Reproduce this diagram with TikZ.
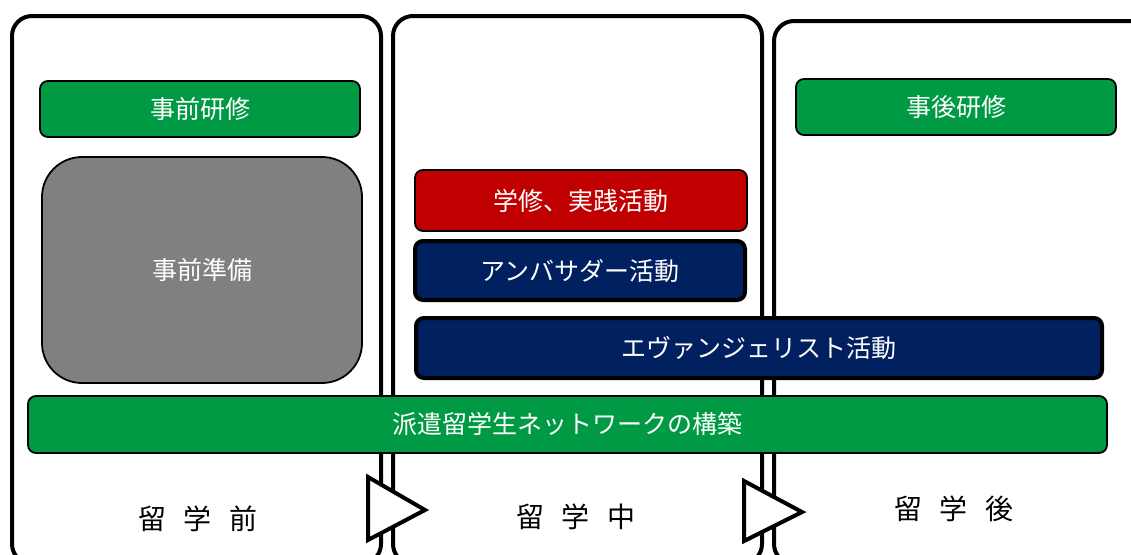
\documentclass[tikz,border=0pt]{standalone}
\usepackage{fontspec}
\setmainfont{Noto Sans CJK JP}
\definecolor{bgreen}{HTML}{009A44}
\definecolor{bred}{HTML}{C00000}
\definecolor{bnavy}{HTML}{002060}
\definecolor{bgray}{HTML}{808080}
\begin{document}
\begin{tikzpicture}[x=1pt,y=-1pt,
  panel/.style={draw=black,line width=4pt,fill=white,rounded corners=20pt},
  box/.style={draw=black,line width=1.8pt,rounded corners=8pt,inner sep=0pt,
    text=white,font=\fontsize{25}{28}\selectfont,anchor=center},
  thickbox/.style={box,line width=4pt},
  phase/.style={font=\fontsize{28}{30}\selectfont,text=black,inner sep=0pt},
  chevron/.style={draw=black,line width=4pt,fill=white,line join=miter}]
\useasboundingbox (0,0) rectangle (1131,554);
\clip (0,0) rectangle (1131,554);
% panels
\draw[panel] (12,16) rectangle (381,564);
\draw[panel] (393,16) rectangle (762,564);
\draw[panel] (774,21) rectangle (1150,564);
% phase labels
\node[phase] (p1) at (198,519) {留\hspace{18pt}学\hspace{18pt}前};
\node[phase] (p2) at (576,517) {留\hspace{18pt}学\hspace{18pt}中};
\node[phase] (p3) at (954,509) {留\hspace{18pt}学\hspace{18pt}後};
% chevrons
\coordinate (c1a) at (368,477);
\coordinate (c1b) at (368,540);
\coordinate (c1c) at (425,510);
\draw[chevron] (c1a) -- (c1c) -- (c1b) -- cycle;
\coordinate (c2a) at (744,481);
\coordinate (c2b) at (744,541);
\coordinate (c2c) at (802,512);
\draw[chevron] (c2a) -- (c2c) -- (c2b) -- cycle;
% boxes
\node[box,fill=bgreen,minimum width=320pt,minimum height=56pt] (jizenkenshu) at (200,109) {事前研修};
\node[box,fill=bgray,rounded corners=40pt,minimum width=320pt,minimum height=226pt] (jizenjunbi) at (202,270) {事前準備};
\node[box,fill=bgreen,minimum width=320pt,minimum height=56pt] (jigokenshu) at (956,107) {事後研修};
\node[box,fill=bred,minimum width=332pt,minimum height=61pt] (gakushu) at (581,200.5) {学修、実践活動};
\node[thickbox,fill=bnavy,minimum width=330pt,minimum height=59pt] (ambassador) at (580,270.5) {アンバサダー活動};
\node[thickbox,fill=bnavy,minimum width=686pt,minimum height=60pt] (evangelist) at (759,348) {エヴァンジェリスト活動};
\node[box,fill=bgreen,minimum width=1079pt,minimum height=57pt] (network) at (567.5,424.5) {派遣留学生ネットワークの構築};
\end{tikzpicture}
\end{document}
